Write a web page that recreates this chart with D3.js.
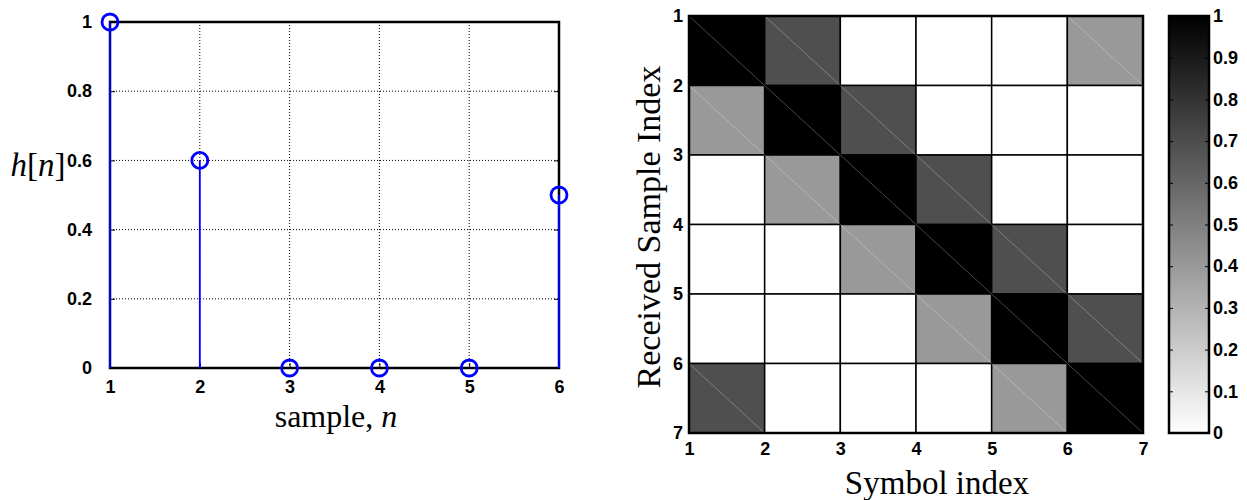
<!DOCTYPE html>
<html>
<head>
<meta charset="utf-8">
<script src="https://cdn.jsdelivr.net/npm/d3@7"></script>
<style>
  body { margin: 0; background: #fff; }
  .lab { font-family: "Liberation Serif", "Times New Roman", serif; font-size: 33px; fill: #000; }
</style>
</head>
<body>
<svg id="chart" width="1247" height="500"></svg>
<script>
// stem plot data
const samples = [1, 2, 3, 4, 5, 6];
const hValues = [1, 0.6, 0, 0, 0, 0.5];
const stemYTicks = [0, 0.2, 0.4, 0.6, 0.8, 1];

// matrix data (rows = received sample index, cols = symbol index)
const matrixRows = [
    [1, 0.69, 0, 0, 0, 0.4],
    [0.4, 1, 0.69, 0, 0, 0],
    [0, 0.4, 1, 0.69, 0, 0],
    [0, 0, 0.4, 1, 0.69, 0],
    [0, 0, 0, 0.4, 1, 0.69],
    [0.69, 0, 0, 0, 0.4, 1]
];
const matrixTicks = [1, 2, 3, 4, 5, 6, 7];
const colorTicks = [0, 0.1, 0.2, 0.3, 0.4, 0.5, 0.6, 0.7, 0.8, 0.9, 1];

const svg = d3.select("#chart");

function styleTicks(g) {
    g.attr("font-size", 18)
        .attr("font-family", "Liberation Sans, Arial, sans-serif")
        .attr("font-weight", "bold");
    g.select(".domain").remove();
    g.selectAll(".tick line").attr("stroke", "#000");
    g.selectAll(".tick text")
        .attr("style", "font: bold 18px 'Liberation Sans', Arial, sans-serif; fill: #000;");
}

// ---------- left: stem plot ----------
var sx = d3.scaleLinear().domain([1, 6]).range([110, 559]);
var sy = d3.scaleLinear().domain([0, 1]).range([368, 22]);
const left = svg.append("g");

// dotted grid
left.selectAll(".gx")
    .data(samples.slice(1, -1))
    .enter().append("line")
    .attr("x1", d => sx(d)).attr("x2", d => sx(d))
    .attr("y1", sy(0)).attr("y2", sy(1))
    .attr("stroke", "#000").attr("stroke-width", 1)
    .attr("stroke-dasharray", "1,2");
left.selectAll(".gy")
    .data(stemYTicks.slice(1, -1))
    .enter().append("line")
    .attr("x1", sx(1)).attr("x2", sx(6))
    .attr("y1", d => sy(d)).attr("y2", d => sy(d))
    .attr("stroke", "#000").attr("stroke-width", 1)
    .attr("stroke-dasharray", "1,2");

left.append("g")
    .attr("transform", "translate(0," + sy(0) + ")")
    .call(d3.axisBottom(sx).tickValues(samples).tickFormat(d3.format("d")).tickSize(-5).tickPadding(12))
    .call(styleTicks);
left.append("g")
    .attr("transform", "translate(" + sx(1) + ",0)")
    .call(d3.axisLeft(sy).tickValues(stemYTicks).tickFormat(d => d).tickSize(-5).tickPadding(18))
    .call(styleTicks);
left.append("g")
    .attr("transform", "translate(" + sx(6) + ",0)")
    .call(d3.axisRight(sy).tickValues(stemYTicks).tickFormat("").tickSize(-5))
    .call(styleTicks);

left.append("rect")
    .attr("x", sx(1)).attr("y", sy(1))
    .attr("width", sx(6) - sx(1)).attr("height", sy(0) - sy(1))
    .attr("fill", "none").attr("stroke", "#000").attr("stroke-width", 2.5);

// stems
left.selectAll(".stem")
    .data(samples)
    .enter().append("line")
    .attr("x1", d => sx(d)).attr("x2", d => sx(d))
    .attr("y1", sy(0)).attr("y2", (d, i) => sy(hValues[i]))
    .attr("stroke", "#0000ff").attr("stroke-width", 1.8);
left.selectAll(".mark")
    .data(samples)
    .enter().append("circle")
    .attr("cx", d => sx(d))
    .attr("cy", (d, i) => sy(hValues[i]))
    .attr("r", 8)
    .attr("fill", "none").attr("stroke", "#0000ff").attr("stroke-width", 2.8);

left.append("text").attr("class", "lab")
    .attr("x", 336).attr("y", 427).attr("text-anchor", "middle")
    .style("font-size", "32px")
    .html('sample, <tspan font-style="italic">n</tspan>');
left.append("text").attr("class", "lab")
    .attr("x", 38).attr("y", 176).attr("text-anchor", "middle")
    .html('<tspan font-style="italic">h</tspan>[<tspan font-style="italic">n</tspan>]');

// ---------- right: matrix ----------
var mx = d3.scaleLinear().domain([1, 7]).range([689, 1143]);
var my = d3.scaleLinear().domain([1, 7]).range([16, 433]);
var shade = v => d3.rgb(255 * (1 - v), 255 * (1 - v), 255 * (1 - v));
const right = svg.append("g");

const cells = [];
matrixRows.forEach((row, r) => row.forEach((v, c) => cells.push({r: r + 1, c: c + 1, v: v})));

right.selectAll(".cell")
    .data(cells)
    .enter().append("rect")
    .attr("x", d => mx(d.c)).attr("y", d => my(d.r))
    .attr("width", d => mx(d.c + 1) - mx(d.c))
    .attr("height", d => my(d.r + 1) - my(d.r))
    .attr("fill", d => shade(d.v))
    .attr("stroke", "#000").attr("stroke-width", 1.5);
// faint triangulation diagonals
right.selectAll(".diag")
    .data(cells.filter(d => d.v > 0))
    .enter().append("line")
    .attr("x1", d => mx(d.c)).attr("y1", d => my(d.r))
    .attr("x2", d => mx(d.c + 1)).attr("y2", d => my(d.r + 1))
    .attr("stroke", "#fff").attr("stroke-opacity", 0.35).attr("stroke-width", 0.8);

right.append("rect")
    .attr("x", mx(1)).attr("y", my(1))
    .attr("width", mx(7) - mx(1)).attr("height", my(7) - my(1))
    .attr("fill", "none").attr("stroke", "#000").attr("stroke-width", 2.5);

right.append("g")
    .attr("transform", "translate(0," + my(7) + ")")
    .call(d3.axisBottom(mx).tickValues(matrixTicks).tickFormat(d3.format("d")).tickSize(0).tickPadding(9))
    .call(styleTicks);
right.append("g")
    .attr("transform", "translate(" + mx(1) + ",0)")
    .call(d3.axisLeft(my).tickValues(matrixTicks).tickFormat(d3.format("d")).tickSize(0).tickPadding(6))
    .call(styleTicks);

right.append("text").attr("class", "lab")
    .attr("x", 937).attr("y", 494).attr("text-anchor", "middle")
    .text("Symbol index");
right.append("text").attr("class", "lab")
    .attr("transform", "translate(660,227) rotate(-90)")
    .attr("text-anchor", "middle")
    .style("font-size", "34px")
    .text("Received Sample Index");

// ---------- colorbar ----------
var cy = d3.scaleLinear().domain([0, 1]).range([433, 16]);
const defs = svg.append("defs");
const grad = defs.append("linearGradient").attr("id", "cbar")
    .attr("x1", 0).attr("y1", 1).attr("x2", 0).attr("y2", 0);
colorTicks.forEach(t => grad.append("stop").attr("offset", t).attr("stop-color", shade(t)));

const cb = svg.append("g");
cb.append("rect")
    .attr("x", 1169).attr("y", cy(1))
    .attr("width", 40).attr("height", cy(0) - cy(1))
    .attr("fill", "url(#cbar)").attr("stroke", "#000").attr("stroke-width", 2.5);
cb.append("g")
    .attr("transform", "translate(1209,0)")
    .call(d3.axisRight(cy).tickValues(colorTicks).tickFormat(d => d).tickSize(-4).tickPadding(4))
    .call(styleTicks);
cb.append("g")
    .attr("transform", "translate(1169,0)")
    .call(d3.axisLeft(cy).tickValues(colorTicks).tickFormat("").tickSize(-4))
    .call(styleTicks);
</script>
</body>
</html>
